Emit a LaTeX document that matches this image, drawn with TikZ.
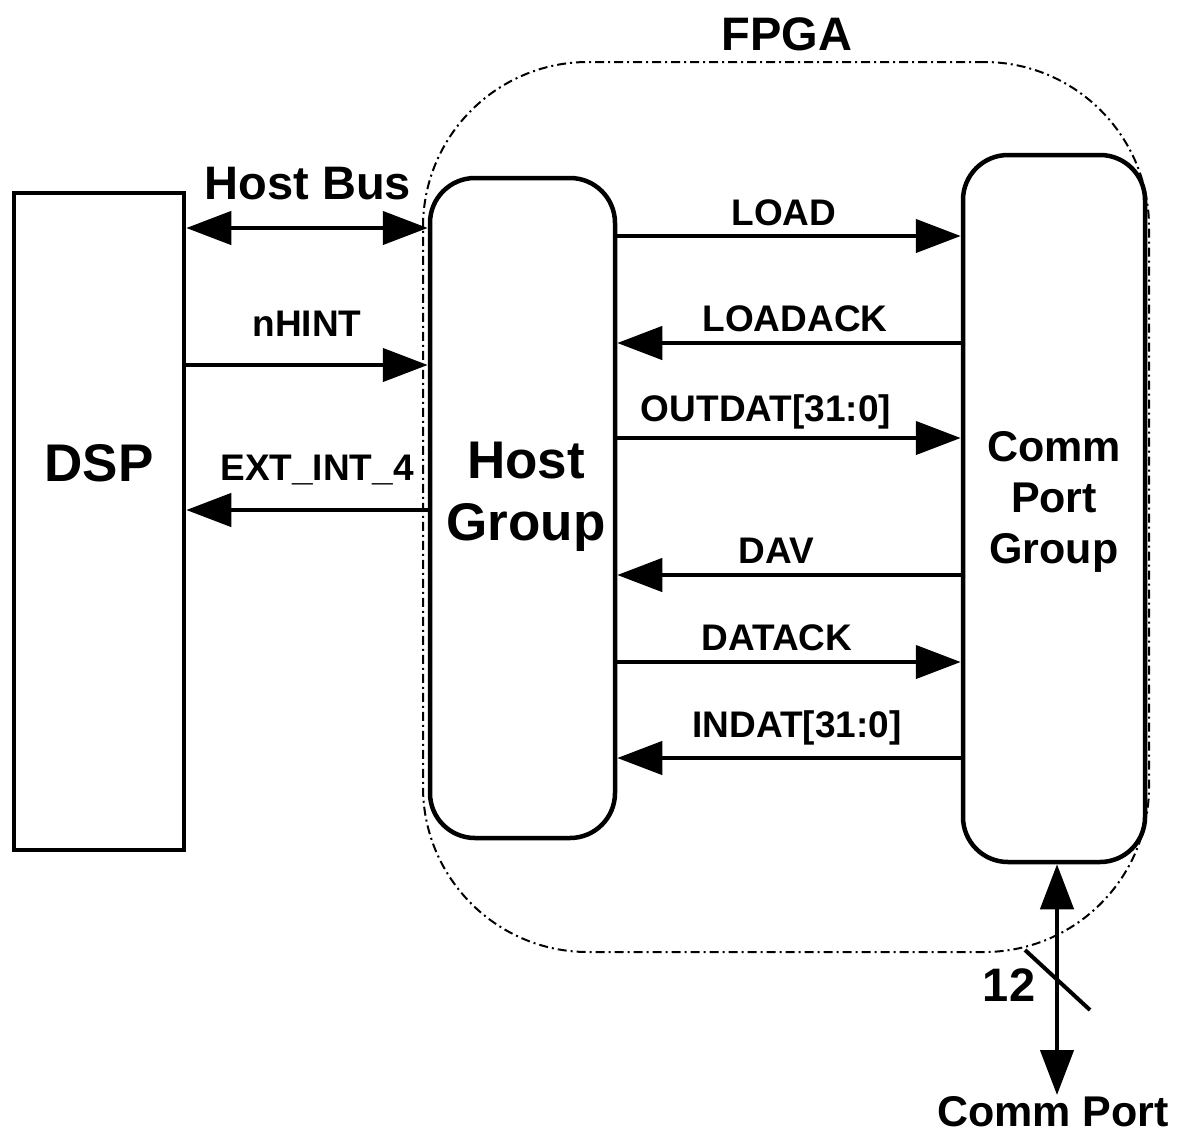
\documentclass[tikz,border=0pt]{standalone}
\usepackage{fontspec}
\setmainfont{Liberation Sans}
\usetikzlibrary{arrows.meta}
\begin{document}
\begin{tikzpicture}[x=1pt,y=-1pt,
  block/.style={draw,line width=4.5pt,inner sep=0pt},
  tipx/.tip={Triangle[length=45pt,width=33pt]},
  sig/.style={line width=4.5pt,-tipx},
  bus/.style={line width=4.5pt,tipx-tipx},
  lbl/.style={font=\bfseries\fontsize{37}{37}\selectfont,inner sep=0pt,anchor=base},
  big/.style={font=\bfseries\fontsize{47}{47}\selectfont,inner sep=0pt,anchor=base},
]
\useasboundingbox (0,0) rectangle (1180,1133);
\fill[white] (0,0) rectangle (1180,1133);

% FPGA boundary
\node[draw,line width=2pt,dash pattern=on 9pt off 4pt on 2pt off 4pt,
      rounded corners=165pt,minimum width=726pt,minimum height=890pt,inner sep=0pt]
      (fpga) at (786,507) {};
\node[big] (tFpga) at (787,50) {FPGA};

% blocks
\node[block,minimum width=170pt,minimum height=657pt] (dsp) at (99,521.5) {};
\node[block,rounded corners=45pt,minimum width=185pt,minimum height=660pt] (host) at (522.5,508) {};
\node[block,rounded corners=45pt,minimum width=182pt,minimum height=707pt] (comm) at (1054,508.5) {};

\node[font=\bfseries\fontsize{53}{53}\selectfont,inner sep=0pt,anchor=base] (tDsp) at (99,481) {DSP};
\node[font=\bfseries\fontsize{53}{62}\selectfont,inner sep=0pt,anchor=north,align=center] (tHost) at (526,442) {Host\\Group};
\node[font=\bfseries\fontsize{43}{51}\selectfont,inner sep=0pt,anchor=north,align=center] (tComm) at (1054,431) {Comm\\Port\\Group};

% signal rows
\coordinate (yHB) at (0,228);
\coordinate (yNH) at (0,365);
\coordinate (yEI) at (0,510);
\coordinate (yLD) at (0,236);
\coordinate (yLA) at (0,343);
\coordinate (yOD) at (0,438);
\coordinate (yDV) at (0,575);
\coordinate (yDA) at (0,662);
\coordinate (yID) at (0,758);

\draw[bus] (dsp.east |- yHB) -- (host.west |- yHB);
\draw[sig] (dsp.east |- yNH) -- (host.west |- yNH);
\draw[sig] (host.west |- yEI) -- (dsp.east |- yEI);

\draw[sig] (host.east |- yLD) -- (comm.west |- yLD);
\draw[sig] (comm.west |- yLA) -- (host.east |- yLA);
\draw[sig] (host.east |- yOD) -- (comm.west |- yOD);
\draw[sig] (comm.west |- yDV) -- (host.east |- yDV);
\draw[sig] (host.east |- yDA) -- (comm.west |- yDA);
\draw[sig] (comm.west |- yID) -- (host.east |- yID);

\node[big] (tHB) at (308,199) {Host Bus};
\node[lbl] (tNH) at (307,336) {nHINT};
\node[lbl] (tEI) at (317,480) {EXT\_INT\_4};
\node[lbl] (tLD) at (784,225) {LOAD};
\node[lbl] (tLA) at (795,331) {LOADACK};
\node[lbl] (tOD) at (766,421) {OUTDAT[31:0]};
\node[lbl] (tDV) at (776,563) {DAV};
\node[lbl] (tDA) at (777,650) {DATACK};
\node[lbl] (tID) at (797,737) {INDAT[31:0]};

% external comm port bus
\coordinate (cpEnd) at (1057,1095);
\draw[bus] (comm.south -| cpEnd) -- (cpEnd);
\draw[line width=4pt] (1025,950) -- (1090,1010);
\node[big] (tTwelve) at (1009,1001) {12};
\node[font=\bfseries\fontsize{43}{43}\selectfont,inner sep=0pt,anchor=base] (tPort) at (1053,1126) {Comm Port};
\end{tikzpicture}
\end{document}
